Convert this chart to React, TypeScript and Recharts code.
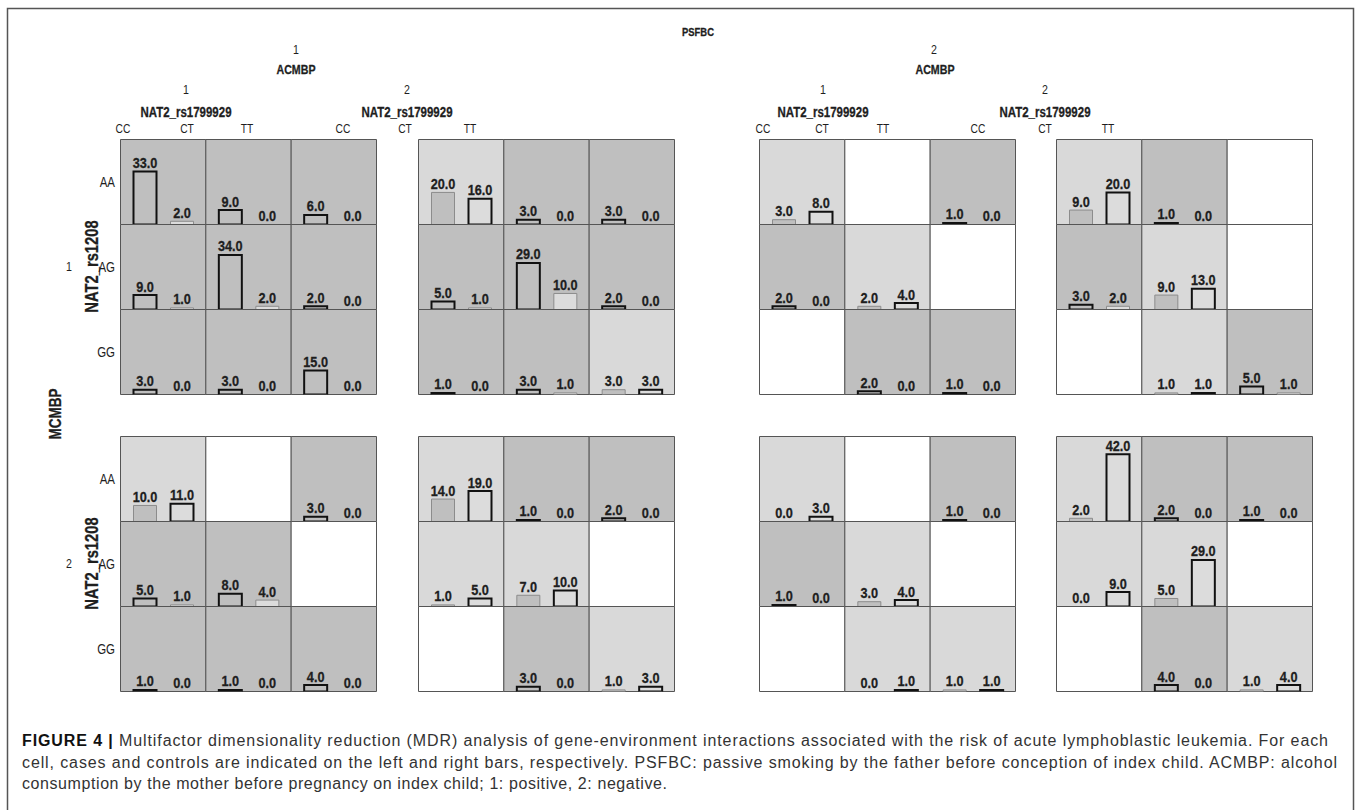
import React from "react"
import { BarChart, Bar, XAxis, YAxis, Cell, LabelList, ReferenceArea } from "recharts"

// genotype tick labels
const COL_GENOS = ["CC", "CT", "TT"] // NAT2_rs1799929
const ROW_GENOS = ["AA", "AG", "GG"] // NAT2_rs1208
const ACMBP_LEVELS = ["1", "2", "1", "2"]
const PSFBC_LEVELS = ["1", "2"]
const MCMBP_LEVELS = ["1", "2"]

// cells are row-major: AA-CC, AA-CT, AA-TT, AG-CC, ... GG-TT
// risk: H = high risk (dark), L = low risk (light), E = empty
// MCMBP 1
const CASES_M1_P1_A1 = [33, 9, 6, 9, 34, 2, 3, 3, 15]
const CONTROLS_M1_P1_A1 = [2, 0, 0, 1, 2, 0, 0, 0, 0]
const RISK_M1_P1_A1 = ["H", "H", "H", "H", "H", "H", "H", "H", "H"]

const CASES_M1_P1_A2 = [20, 3, 3, 5, 29, 2, 1, 3, 3]
const CONTROLS_M1_P1_A2 = [16, 0, 0, 1, 10, 0, 0, 1, 3]
const RISK_M1_P1_A2 = ["L", "H", "H", "H", "H", "H", "H", "H", "L"]

const CASES_M1_P2_A1 = [3, null, 1, 2, 2, null, null, 2, 1]
const CONTROLS_M1_P2_A1 = [8, null, 0, 0, 4, null, null, 0, 0]
const RISK_M1_P2_A1 = ["L", "E", "H", "H", "L", "E", "E", "H", "H"]

const CASES_M1_P2_A2 = [9, 1, null, 3, 9, null, null, 1, 5]
const CONTROLS_M1_P2_A2 = [20, 0, null, 2, 13, null, null, 1, 1]
const RISK_M1_P2_A2 = ["L", "H", "E", "H", "L", "E", "E", "L", "H"]

// MCMBP 2
const CASES_M2_P1_A1 = [10, null, 3, 5, 8, null, 1, 1, 4]
const CONTROLS_M2_P1_A1 = [11, null, 0, 1, 4, null, 0, 0, 0]
const RISK_M2_P1_A1 = ["L", "E", "H", "H", "H", "E", "H", "H", "H"]

const CASES_M2_P1_A2 = [14, 1, 2, 1, 7, null, null, 3, 1]
const CONTROLS_M2_P1_A2 = [19, 0, 0, 5, 10, null, null, 0, 3]
const RISK_M2_P1_A2 = ["L", "H", "H", "L", "L", "E", "E", "H", "L"]

const CASES_M2_P2_A1 = [0, null, 1, 1, 3, null, null, 0, 1]
const CONTROLS_M2_P2_A1 = [3, null, 0, 0, 4, null, null, 1, 1]
const RISK_M2_P2_A1 = ["L", "E", "H", "H", "L", "E", "E", "L", "L"]

const CASES_M2_P2_A2 = [2, 2, 1, 0, 5, null, null, 4, 1]
const CONTROLS_M2_P2_A2 = [42, 0, 0, 9, 29, null, null, 0, 4]
const RISK_M2_P2_A2 = ["L", "H", "H", "L", "L", "E", "E", "H", "L"]

const PANELS = [
  [
    [CASES_M1_P1_A1, CONTROLS_M1_P1_A1, RISK_M1_P1_A1],
    [CASES_M1_P1_A2, CONTROLS_M1_P1_A2, RISK_M1_P1_A2],
    [CASES_M1_P2_A1, CONTROLS_M1_P2_A1, RISK_M1_P2_A1],
    [CASES_M1_P2_A2, CONTROLS_M1_P2_A2, RISK_M1_P2_A2],
  ],
  [
    [CASES_M2_P1_A1, CONTROLS_M2_P1_A1, RISK_M2_P1_A1],
    [CASES_M2_P1_A2, CONTROLS_M2_P1_A2, RISK_M2_P1_A2],
    [CASES_M2_P2_A1, CONTROLS_M2_P2_A1, RISK_M2_P2_A1],
    [CASES_M2_P2_A2, CONTROLS_M2_P2_A2, RISK_M2_P2_A2],
  ],
]

const CAPTION_1 = "Multifactor dimensionality reduction (MDR) analysis of gene-environment interactions associated with the risk of acute lymphoblastic leukemia. For each"
const CAPTION_2 = "cell, cases and controls are indicated on the left and right bars, respectively. PSFBC: passive smoking by the father before conception of index child. ACMBP: alcohol"
const CAPTION_3 = "consumption by the mother before pregnancy on index child; 1: positive, 2: negative."

// layout
const PANEL_X = [120, 418, 759, 1056]
const PANEL_Y = [139, 436]
const ROW_H = 85
const Y_MAX = 53
const COL_LABEL_X = [
  [123, 187, 247],
  [343, 405, 470],
  [763, 822, 883],
  [978, 1045, 1108],
]
const PANEL_TITLE_X = [186, 407, 823, 1045]

const SANS = "'Liberation Sans', Arial, sans-serif"
const INK = "#1e1e1e"
const BG: Record<string, string> = { H: "#bfbfbf", L: "#d9d9d9", E: "#ffffff" }
const SQUEEZE = 0.82 // Liberation Sans squeezed to look like a narrow face

// narrow label: Liberation Sans squeezed horizontally
function NText({ x, y, size, bold, anchor = "middle", rotate, children }: any) {
  return (
    <text
      transform={`translate(${x} ${y})${rotate ? " rotate(-90)" : ""} scale(${SQUEEZE} 1)`}
      fontFamily={SANS}
      fontSize={size}
      fontWeight={bold ? "bold" : "normal"}
      textAnchor={anchor}
      dominantBaseline="central"
      fill={INK}
      stroke={bold ? INK : "none"}
      strokeWidth={bold ? 0.3 : 0}
    >
      {children}
    </text>
  )
}

const renderValue = (props: any) => {
  const { x, y, width, value } = props
  if (value == null || isNaN(Number(y))) return null
  const cx = Number(x) + Number(width) / 2
  const by = Number(y) - 3.5
  return (
    <text
      transform={`translate(${cx} ${by}) scale(${SQUEEZE} 1)`}
      textAnchor="middle"
      fontFamily={SANS}
      fontWeight="bold"
      fontSize={15.5}
      fill={INK}
      stroke={INK}
      strokeWidth={0.3}
    >
      {Number(value).toFixed(1)}
    </text>
  )
}

const zeroLift = (v: any) => (v === 0 ? 0.01 : 0)

function RowChart({ data, left, top }: { data: any[]; left: number; top: number }) {
  return (
    <div style={{ position: "absolute", left, top, width: 257, height: ROW_H + 1 }}>
      <BarChart
        width={257}
        height={ROW_H + 1}
        data={data}
        margin={{ top: 0.5, right: 0.5, bottom: 0.5, left: 0.5 }}
        barCategoryGap={13}
        barGap={14}
      >
        <XAxis dataKey="geno" type="category" hide />
        <YAxis type="number" domain={[0, Y_MAX]} hide allowDataOverflow />
        {data.map((d) => (
          <ReferenceArea
            key={d.geno}
            x1={d.geno}
            x2={d.geno}
            y1={0}
            y2={Y_MAX}
            fill={BG[d.risk]}
            fillOpacity={1}
            stroke="#555"
            strokeWidth={1}
          />
        ))}
        <Bar dataKey="cases" fill="#bfbfbf" minPointSize={zeroLift} isAnimationActive={false}>
          {data.map((d) => (
            <Cell
              key={d.geno}
              stroke={d.cases === 0 ? "none" : d.risk === "H" ? "#111" : "#8c8c8c"}
              strokeWidth={d.risk === "H" ? 2 : 1}
            />
          ))}
          <LabelList dataKey="cases" content={renderValue} />
        </Bar>
        <Bar dataKey="controls" fill="#dcdcdc" minPointSize={zeroLift} isAnimationActive={false}>
          {data.map((d) => (
            <Cell
              key={d.geno}
              stroke={d.controls === 0 ? "none" : d.risk === "L" ? "#111" : "#8c8c8c"}
              strokeWidth={d.risk === "L" ? 2 : 1}
            />
          ))}
          <LabelList dataKey="controls" content={renderValue} />
        </Bar>
      </BarChart>
    </div>
  )
}

export default function App() {
  const charts: React.ReactNode[] = []
  PANELS.forEach((panelRow, m) => {
    panelRow.forEach(([cases, controls, risk], p) => {
      ROW_GENOS.forEach((rg, r) => {
        const data = COL_GENOS.map((cg, c) => ({
          geno: cg,
          cases: cases[r * 3 + c],
          controls: controls[r * 3 + c],
          risk: risk[r * 3 + c],
        }))
        charts.push(
          <RowChart key={`${m}-${p}-${rg}`} data={data} left={PANEL_X[p]} top={PANEL_Y[m] + r * ROW_H} />
        )
      })
    })
  })

  return (
    <div style={{ position: "absolute", left: 0, top: 0, width: 1357, height: 810, background: "#fff", overflow: "hidden" }}>
      <svg width={1357} height={810} style={{ position: "absolute", left: 0, top: 0 }}>
        <path d="M7.5 812 V8.5 H1353.5 V812" fill="none" stroke="#555" strokeWidth={1.5} />
        <NText x={698} y={32} size={11.5} bold>
          PSFBC
        </NText>
        {PSFBC_LEVELS.map((lv, i) => (
          <g key={lv}>
            <NText x={[296, 934][i]} y={50} size={13}>
              {lv}
            </NText>
            <NText x={[296, 935][i]} y={70} size={13} bold>
              ACMBP
            </NText>
          </g>
        ))}
        {ACMBP_LEVELS.map((lv, p) => (
          <g key={p}>
            <NText x={PANEL_TITLE_X[p]} y={90} size={13}>
              {lv}
            </NText>
            <NText x={PANEL_TITLE_X[p]} y={112} size={14} bold>
              NAT2_rs1799929
            </NText>
            {COL_GENOS.map((g, c) => (
              <NText key={g} x={COL_LABEL_X[p][c]} y={129} size={12.5}>
                {g}
              </NText>
            ))}
          </g>
        ))}
        {MCMBP_LEVELS.map((lv, m) => {
          const cy = PANEL_Y[m] + (ROW_H * 3) / 2
          return (
            <g key={lv}>
              {ROW_GENOS.map((g, r) => (
                <NText key={g} x={115} y={PANEL_Y[m] + r * ROW_H + ROW_H / 2 + 1} size={14} anchor="end">
                  {g}
                </NText>
              ))}
              <NText x={69} y={cy} size={13}>
                {lv}
              </NText>
              <NText x={91} y={cy} size={18} bold rotate>
                NAT2_rs1208
              </NText>
            </g>
          )
        })}
        <NText x={55} y={414} size={16.5} bold rotate>
          MCMBP
        </NText>
        <g fontFamily={SANS} fontSize={16} fill="#333">
          <text x={22} y={746} textLength={1306} lengthAdjust="spacing">
            <tspan fontWeight="bold" fill="#111">FIGURE 4 | </tspan>
            {CAPTION_1}
          </text>
          <text x={22} y={767.5} textLength={1315} lengthAdjust="spacing">
            {CAPTION_2}
          </text>
          <text x={22} y={789} textLength={645} lengthAdjust="spacing">
            {CAPTION_3}
          </text>
        </g>
      </svg>
      {charts}
    </div>
  )
}
